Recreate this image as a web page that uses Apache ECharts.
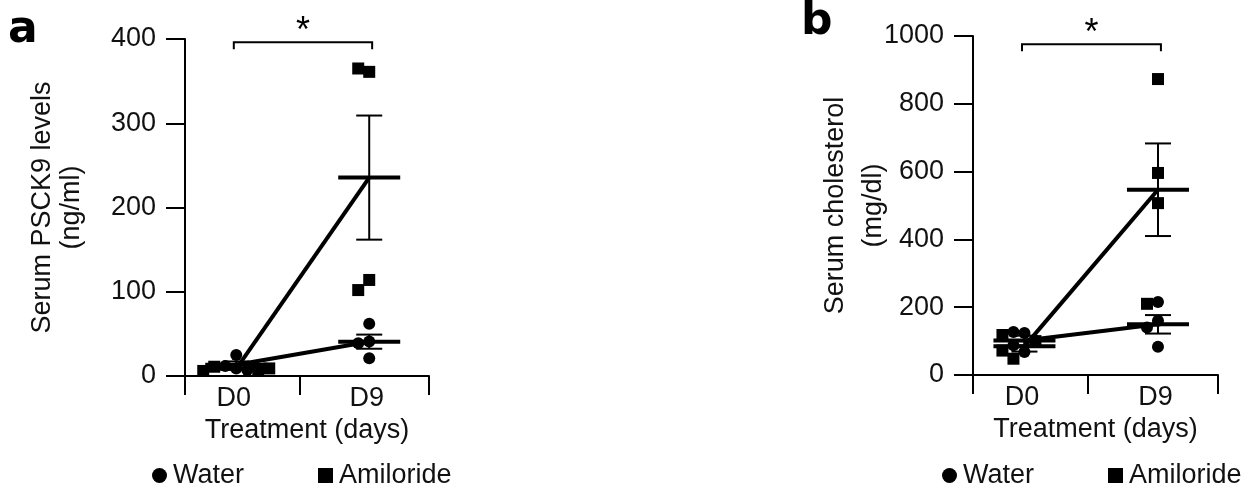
<!DOCTYPE html>
<html>
<head>
<meta charset="utf-8">
<script src="https://cdn.jsdelivr.net/npm/echarts@6/dist/echarts.min.js"></script>
<style>
html,body{margin:0;padding:0;background:#fff;}
#chart{width:1257px;height:491px;}
</style>
</head>
<body>
<div id="chart"></div>
<script>
// ---------- DATA ----------
const categories = ['D0', 'D9'];
const legendNames = ['Water', 'Amiloride'];

// Panel a: Serum PSCK9 levels (ng/ml)
const pcsk9WaterD0 = [25, 12, 9, 7];
const pcsk9WaterD9 = [62, 41, 39, 21];
const pcsk9AmilD0 = [11, 8, 6, 9];
const pcsk9AmilD9 = [361, 365, 114, 102];
const pcsk9Ticks = [0, 100, 200, 300, 400];

// Panel b: Serum cholesterol (mg/dl)
const cholWaterD0 = [124, 68, 127, 88];
const cholWaterD9 = [215, 160, 140, 83];
const cholAmilD0 = [100, 48, 72, 118];
const cholAmilD9 = [873, 596, 507, 210];
const cholTicks = [0, 200, 400, 600, 800, 1000];

// ---------- LAYOUT ----------
const FONT = 'Liberation Sans';
const FS = 27;
const GX = [0.21, 0.755];          // group centres on the 0..1 x scale
const LABEL_X = [0.2, 0.745];      // tick label positions
const TICK_X = [0, 0.47, 1];
const grids = [
  {left: 185, top: 39, width: 244, height: 337},
  {left: 973, top: 36, width: 245, height: 339}
];
const SYM = 12;

function mean(a){ return a.reduce((s,v)=>s+v,0)/a.length; }
function sem(a){
  const m = mean(a);
  const sd = Math.sqrt(a.reduce((s,v)=>s+(v-m)*(v-m),0)/(a.length-1));
  return sd/Math.sqrt(a.length);
}

// simple beeswarm so overlapping points spread sideways
function swarm(groupSets, yMax, grid){
  const pxPerUnit = grid.height / yMax;
  const out = groupSets.map(()=>[]);
  for (let c = 0; c < 2; c++) {
    const placed = [];
    groupSets.forEach((sets, si) => {
      sets[c].forEach(v => {
        const py = v * pxPerUnit;
        let off = 0;
        for (let k = 0; k < 20; k++) {
          const cand = (k === 0) ? 0 : (k % 2 ? -1 : 1) * Math.ceil(k/2) * 11;
          const hit = placed.some(p => Math.abs(p.py - py) < 11 && Math.abs(p.px - cand) < 11);
          if (!hit) { off = cand; break; }
        }
        placed.push({py: py, px: off});
        out[si].push([GX[c] + off / grid.width, v]);
      });
    });
  }
  return out;
}

function panelSeries(idx, water, amil, yMax, bracketY){
  const g = grids[idx];
  const pts = swarm([water, amil], yMax, g);
  const common = {xAxisIndex: idx, yAxisIndex: idx};
  return [
    Object.assign({type:'scatter', name:'Water', symbol:'circle', symbolSize:SYM,
      itemStyle:{color:'#000', opacity:1}, data: pts[0], z:3}, common),
    Object.assign({type:'scatter', name:'Amiloride', symbol:'rect', symbolSize:SYM,
      itemStyle:{color:'#000', opacity:1}, data: pts[1], z:3}, common),
    Object.assign({type:'line', name:'Water trend', symbol:'none',
      lineStyle:{color:'#000', width:4}, data:[[GX[0], mean(water[0])],[GX[1], mean(water[1])]], z:4}, common),
    Object.assign({type:'line', name:'Amiloride trend', symbol:'none',
      lineStyle:{color:'#000', width:4}, data:[[GX[0], mean(amil[0])],[GX[1], mean(amil[1])]], z:4}, common),
    Object.assign({type:'custom', name:'Mean SEM', clip:false, z:5,
      data: [water[0], water[1], amil[0], amil[1]].map((a,i)=>[GX[i%2], mean(a), sem(a)]),
      renderItem: function(params, api){
        const x = api.value(0), m = api.value(1), s = api.value(2);
        const c = api.coord([x, m]);
        const t = api.coord([x, m + s]);
        const b = api.coord([x, m - s]);
        const st = {stroke:'#000', lineWidth:2};
        return {type:'group', children:[
          {type:'line', shape:{x1:c[0]-31, y1:c[1], x2:c[0]+31, y2:c[1]}, style:{stroke:'#000', lineWidth:4}},
          {type:'line', shape:{x1:c[0], y1:t[1], x2:c[0], y2:b[1]}, style:st},
          {type:'line', shape:{x1:c[0]-13, y1:t[1], x2:c[0]+13, y2:t[1]}, style:st},
          {type:'line', shape:{x1:c[0]-13, y1:b[1], x2:c[0]+13, y2:b[1]}, style:st}
        ]};
      }}, common),
    Object.assign({type:'custom', name:'Significance', clip:false, z:5,
      data: [[LABEL_X[0], GX[1] + 0.012, bracketY]],
      renderItem: function(params, api){
        const p0 = api.coord([api.value(0), api.value(2)]);
        const p1 = api.coord([api.value(1), api.value(2)]);
        return {type:'group', children:[
          {type:'polyline', shape:{points:[[p0[0], p0[1]+7],[p0[0], p0[1]],[p1[0], p1[1]],[p1[0], p1[1]+7]]},
            style:{stroke:'#000', lineWidth:2, fill:null}},
          {type:'text', x:(p0[0]+p1[0])/2, y:p0[1]-10,
            style:{text:'*', fontSize:36, fontFamily:FONT, fill:'#000', align:'center', verticalAlign:'middle'}}
        ]};
      }}, common)
  ];
}

function xAxis(idx){
  return {
    type:'value', gridIndex: idx, min:0, max:1,
    name:'Treatment (days)', nameLocation:'middle', nameGap:41, nameMoveOverlap:false,
    nameTextStyle:{fontSize:FS, fontFamily:FONT, color:'#111'},
    axisLine:{show:true, lineStyle:{color:'#000', width:2}},
    axisTick:{show:true, length:19, lineStyle:{color:'#000', width:2}, customValues: TICK_X},
    axisLabel:{show:true, margin:9, fontSize:FS, fontFamily:FONT, color:'#111',
      customValues: LABEL_X, formatter: v => categories[v < 0.47 ? 0 : 1]},
    splitLine:{show:false}
  };
}
function yAxis(idx, max, interval, name, gap, lh){
  return {
    type:'value', gridIndex: idx, min:0, max:max, interval:interval,
    name:name, nameLocation:'middle', nameGap:gap, nameMoveOverlap:false,
    nameTextStyle:{fontSize:FS, fontFamily:FONT, color:'#111', lineHeight:lh},
    axisLine:{show:true, lineStyle:{color:'#000', width:2}},
    axisTick:{show:true, length:19, lineStyle:{color:'#000', width:2}},
    axisLabel:{margin:29, fontSize:FS, fontFamily:FONT, color:'#111', formatter: v => String(v)},
    splitLine:{show:false}
  };
}
function legend(name, icon, left){
  return {data:[name], icon:icon, left:left, top:462, padding:0, itemWidth:15, itemHeight:15, itemGap:6,
    selectedMode:false, textStyle:{fontSize:FS, fontFamily:FONT, color:'#111', padding:[0,0,0,1]}};
}

const chart = echarts.init(document.getElementById('chart'), null, {renderer:'canvas'});
chart.setOption({
  backgroundColor:'#fff',
  animation:false,
  textStyle:{fontFamily:FONT},
  grid: grids,
  xAxis:[xAxis(0), xAxis(1)],
  yAxis:[
    yAxis(0, pcsk9Ticks[pcsk9Ticks.length-1], pcsk9Ticks[1]-pcsk9Ticks[0], 'Serum PSCK9 levels\n(ng/ml)', 99, 29),
    yAxis(1, cholTicks[cholTicks.length-1], cholTicks[1]-cholTicks[0], 'Serum cholesterol\n(mg/dl)', 80, 38)
  ],
  legend:[
    legend(legendNames[0], 'circle', 152),
    legend(legendNames[1], 'rect', 318),
    legend(legendNames[0], 'circle', 942),
    legend(legendNames[1], 'rect', 1108)
  ],
  graphic:[
    {type:'text', left:8, top:9, style:{text:'a', fontSize:44, fontWeight:'bold', fontFamily:'DejaVu Sans', fill:'#000'}},
    {type:'text', left:801, top:1, style:{text:'b', fontSize:44, fontWeight:'bold', fontFamily:'DejaVu Sans', fill:'#000'}}
  ],
  series: [].concat(
    panelSeries(0, [pcsk9WaterD0, pcsk9WaterD9], [pcsk9AmilD0, pcsk9AmilD9], pcsk9Ticks[pcsk9Ticks.length-1], 396),
    panelSeries(1, [cholWaterD0, cholWaterD9], [cholAmilD0, cholAmilD9], cholTicks[cholTicks.length-1], 976)
  )
});
</script>
</body>
</html>
